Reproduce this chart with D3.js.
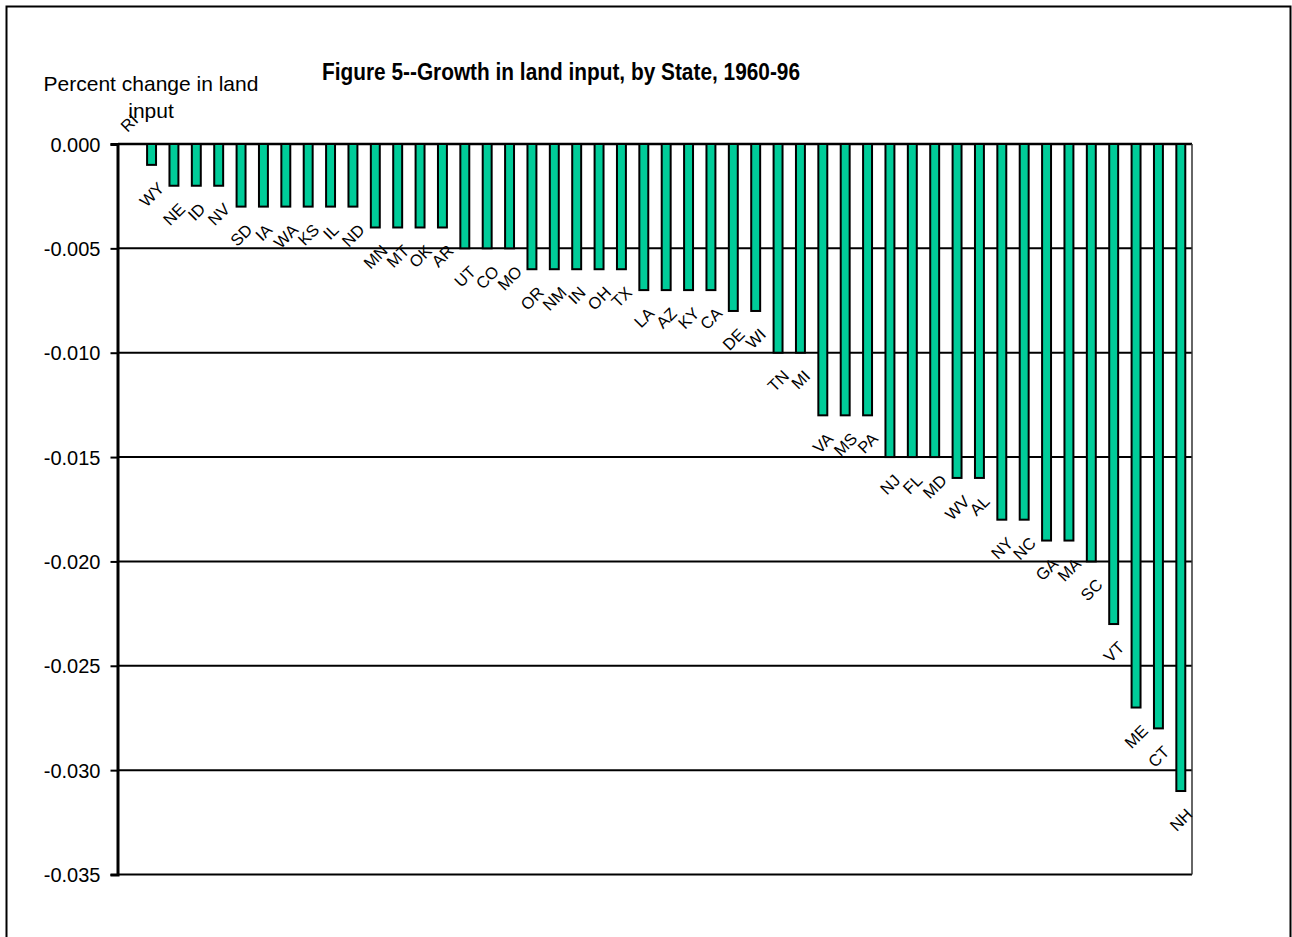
<!DOCTYPE html>
<html lang="en">
<head>
    <meta charset="UTF-8">
    <title>Figure 5--Growth in land input, by State, 1960-96</title>
    <style>
        body { margin: 0; background: #fff; }
        text { font-family: Arial, "Liberation Sans", sans-serif; fill: #000; }
    </style>
</head>
<body>
<script src="https://d3js.org/d3.v7.min.js"></script>
<script>
// states, left to right
let states = ['RI','WY','NE','ID','NV','SD','IA','WA','KS','IL','ND','MN','MT','OK','AR','UT','CO','MO',
    'OR','NM','IN','OH','TX','LA','AZ','KY','CA','DE','WI','TN','MI','VA','MS','PA','NJ','FL','MD',
    'WV','AL','NY','NC','GA','MA','SC','VT','ME','CT','NH'];
// percent change in land input
let values = [0,-0.001,-0.002,-0.002,-0.002,-0.003,-0.003,-0.003,-0.003,-0.003,-0.003,-0.004,-0.004,-0.004,-0.004,
    -0.005,-0.005,-0.005,-0.006,-0.006,-0.006,-0.006,-0.006,-0.007,-0.007,-0.007,-0.007,-0.008,-0.008,
    -0.010,-0.010,-0.013,-0.013,-0.013,-0.015,-0.015,-0.015,-0.016,-0.016,-0.018,-0.018,-0.019,-0.019,
    -0.020,-0.023,-0.027,-0.028,-0.031];
let yTicks = [0,-0.005,-0.010,-0.015,-0.020,-0.025,-0.030,-0.035];

let dataset = states.map((s, i) => ({ state: s, value: values[i] }));

let svgWidth = 1292;
let svgHeight = 937;
let plotLeft = 118, plotRight = 1192, plotTop = 144, plotBottom = 874.5;

let svg = d3.select('body')
    .append('svg')
    .attr('width', svgWidth)
    .attr('height', svgHeight);

// outer frame
svg.append('rect')
    .attr('x', 6.5).attr('y', 6.5)
    .attr('width', 1284).attr('height', 1000)
    .attr('fill', '#fff')
    .attr('stroke', '#000')
    .attr('stroke-width', 2);

let xScale = d3.scaleBand().domain(states).range([plotLeft, plotRight]).paddingInner(0.6).paddingOuter(0.3);
let yScale = d3.scaleLinear().domain([0, -0.035]).range([plotTop, plotBottom]);

// gridlines
svg.append('g')
    .selectAll('line')
    .data(yTicks)
    .enter().append('line')
    .attr('x1', plotLeft).attr('x2', plotRight)
    .attr('y1', d => yScale(d)).attr('y2', d => yScale(d))
    .attr('stroke', '#000')
    .attr('stroke-width', d => d === 0 ? 2.5 : 2);

// right edge of plot area
svg.append('line')
    .attr('x1', plotRight).attr('x2', plotRight)
    .attr('y1', plotTop).attr('y2', plotBottom)
    .attr('stroke', '#333')
    .attr('stroke-width', 1.5);

// bars
svg.selectAll('.bar')
    .data(dataset)
    .enter().append('rect')
    .attr('class', 'bar')
    .attr('x', d => xScale(d.state))
    .attr('width', xScale.bandwidth())
    .attr('y', yScale(0))
    .attr('height', d => yScale(d.value) - yScale(0))
    .attr('fill', '#00CC99')
    .attr('stroke', '#000')
    .attr('stroke-width', 2);

// y axis (plain hyphen for the minus sign)
let fmt = d3.format('.3f');
let yAxis = d3.axisLeft(yScale)
    .tickValues(yTicks)
    .tickFormat(d => fmt(d).replace('\u2212', '-'))
    .tickSize(7)
    .tickPadding(10);

let gy = svg.append('g')
    .attr('transform', 'translate(' + (plotLeft - 0.5) + ',0)')
    .call(yAxis);
gy.select('.domain').attr('stroke', '#000').attr('stroke-width', 3);
gy.selectAll('.tick line').attr('stroke', '#000').attr('stroke-width', 2);
gy.selectAll('.tick text')
    .style('font-size', '20px')
    .style('font-family', 'Arial, "Liberation Sans", sans-serif')
    .attr('dy', '0.36em');

// state labels, rotated 45 degrees at the bar ends
let fs = 16.5;
svg.selectAll('.lab')
    .data(dataset)
    .enter().append('text')
    .attr('class', 'lab')
    .style('font-size', fs + 'px')
    .attr('text-anchor', 'middle')
    .attr('dominant-baseline', 'central')
    .text(d => d.state)
    .each(function (d) {
        let L = this.getComputedTextLength();
        let box = 0.707 * (L + fs * 0.72);
        let cx = xScale(d.state) + xScale.bandwidth() / 2;
        let cy = d.value === 0
            ? yScale(0) - 11 - box / 2
            : yScale(d.value) + 16 + box / 2;
        d3.select(this).attr('transform', 'translate(' + cx + ',' + cy + ') rotate(-45)');
    });

// axis title
let yt = svg.append('text')
    .attr('x', 151)
    .attr('text-anchor', 'middle')
    .style('font-size', '21px');
yt.append('tspan').attr('x', 151).attr('y', 91).text('Percent change in land');
yt.append('tspan').attr('x', 151).attr('y', 118).text('input');

// chart title
svg.append('text')
    .attr('x', 561)
    .attr('y', 80)
    .attr('text-anchor', 'middle')
    .attr('textLength', 478)
    .attr('lengthAdjust', 'spacingAndGlyphs')
    .style('font-size', '23px')
    .style('font-weight', 'bold')
    .text('Figure 5--Growth in land input, by State, 1960-96');
</script>
</body>
</html>
